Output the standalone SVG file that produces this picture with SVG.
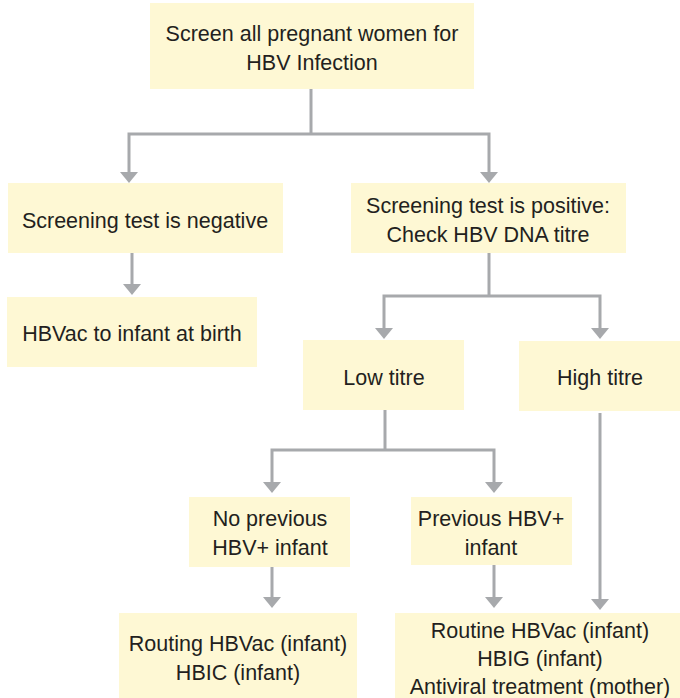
<svg xmlns="http://www.w3.org/2000/svg" width="680" height="698" viewBox="0 0 680 698">
<style>
.box{fill:#FEF8D4;stroke:none}
.t{font-family:"Liberation Sans",Arial,sans-serif;font-size:21.5px;fill:#231F20;text-anchor:middle}
.c{fill:none;stroke:#A7A9AC;stroke-width:3}
</style>
<defs>
<marker id="ah" viewBox="0 0 11 18" refX="0" refY="9" markerWidth="11" markerHeight="18" markerUnits="userSpaceOnUse" orient="auto">
<path d="M0,0 L11,9 L0,18 z" fill="#A7A9AC"/>
</marker>
</defs>
<rect width="680" height="698" fill="#FFFFFF"/>
<g id="connectors">
<path class="c" d="M311,89 V134"/>
<path class="c" d="M311,134 H129 V172" marker-end="url(#ah)"/>
<path class="c" d="M311,134 H489 V172" marker-end="url(#ah)"/>
<path class="c" d="M132,253 V284" marker-end="url(#ah)"/>
<path class="c" d="M489,253 V296"/>
<path class="c" d="M489,296 H384 V328" marker-end="url(#ah)"/>
<path class="c" d="M489,296 H600 V328" marker-end="url(#ah)"/>
<path class="c" d="M385,410 V450"/>
<path class="c" d="M385,450 H272 V482" marker-end="url(#ah)"/>
<path class="c" d="M385,450 H494 V482" marker-end="url(#ah)"/>
<path class="c" d="M600,413 V599" marker-end="url(#ah)"/>
<path class="c" d="M272,567 V597" marker-end="url(#ah)"/>
<path class="c" d="M494,565 V597" marker-end="url(#ah)"/>
</g>
<g id="screen">
<rect class="box" x="150" y="3" width="324" height="86"/>
<text class="t" x="312" y="41">Screen all pregnant women for</text>
<text class="t" x="312" y="70">HBV Infection</text>
</g>
<g id="negative">
<rect class="box" x="8" y="183" width="275" height="70"/>
<text class="t" x="145" y="228">Screening test is negative</text>
</g>
<g id="positive">
<rect class="box" x="351" y="183" width="275" height="70"/>
<text class="t" x="488" y="213">Screening test is positive:</text>
<text class="t" x="488" y="242">Check HBV DNA titre</text>
</g>
<g id="hbvac">
<rect class="box" x="7" y="297" width="250" height="70"/>
<text class="t" x="132" y="341">HBVac to infant at birth</text>
</g>
<g id="low">
<rect class="box" x="303" y="340" width="161" height="70"/>
<text class="t" x="384" y="385">Low titre</text>
</g>
<g id="high">
<rect class="box" x="519" y="341" width="161" height="70"/>
<text class="t" x="600" y="385">High titre</text>
</g>
<g id="noprevious">
<rect class="box" x="189" y="497" width="161" height="70"/>
<text class="t" x="270" y="526">No previous</text>
<text class="t" x="270" y="555">HBV+ infant</text>
</g>
<g id="previous">
<rect class="box" x="411" y="497" width="161" height="68"/>
<text class="t" x="491" y="526">Previous HBV+</text>
<text class="t" x="491" y="555">infant</text>
</g>
<g id="routing">
<rect class="box" x="119" y="613" width="238" height="85"/>
<text class="t" x="238" y="651">Routing HBVac (infant)</text>
<text class="t" x="238" y="680">HBIC (infant)</text>
</g>
<g id="routine">
<rect class="box" x="395" y="613" width="285" height="85"/>
<text class="t" x="540" y="638">Routine HBVac (infant)</text>
<text class="t" x="540" y="666">HBIG (infant)</text>
<text class="t" x="540" y="694">Antiviral treatment (mother)</text>
</g>
</svg>
